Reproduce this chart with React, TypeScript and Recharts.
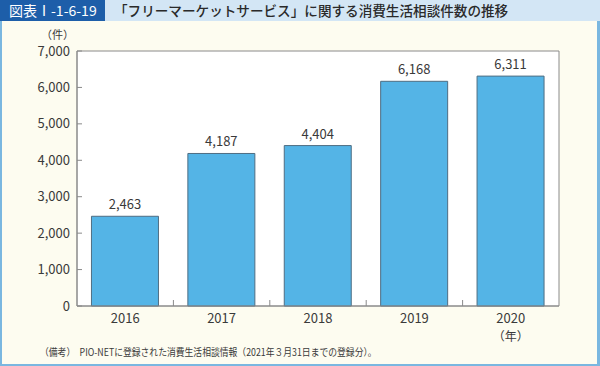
import React from 'react';
import { BarChart, Bar, XAxis, YAxis, CartesianGrid, LabelList, ReferenceArea } from 'recharts';

const years = ['2016', '2017', '2018', '2019', '2020'];
const counts = [2463, 4187, 4404, 6168, 6311];
const yTicks = [0, 1000, 2000, 3000, 4000, 5000, 6000, 7000];

const data = years.map((year, i) => ({ year, count: counts[i] }));

const FONT = '"Noto Sans CJK JP", "Noto Sans", sans-serif';
const fmt = (v: number) => v.toLocaleString('en-US');

const YearTick = (props: any) => {
    const { x, y, payload, index, visibleTicksCount } = props;
    const half = payload.offset || 0;
    return (
        <g>
            {index > 0 && (
                <line x1={x - half} x2={x - half} y1={y} y2={y - 6} stroke="#8a8a8a" />
            )}
            <text x={x} y={y + 17} textAnchor="middle" fontSize={13} fill="#3a3a3a" fontFamily={FONT}>
                {payload.value}
            </text>
            {index === visibleTicksCount - 1 && (
                <text x={x} y={y + 35} textAnchor="middle" fontSize={12} fill="#3a3a3a" fontFamily={FONT}>
                    （年）
                </text>
            )}
        </g>
    );
};

export default function App() {
    return (
        <div style={{ position: 'relative', width: 600, height: 366, fontFamily: FONT, background: '#fdfcf0', overflow: 'hidden' }}>
            <style>{'body{margin:0}'}</style>
            {/* title band */}
            <div style={{ position: 'absolute', left: 0, top: 0, width: 600, height: 21, background: '#d3e6f5' }} />
            <div style={{ position: 'absolute', left: 0, top: 0, width: 105, height: 21, background: '#1d5ea9', color: '#fff', fontSize: 14, lineHeight: '21px', paddingLeft: 9, boxSizing: 'border-box' }}>
                図表Ⅰ-1-6-19
            </div>
            <div style={{ position: 'absolute', left: 114, top: 0, height: 21, lineHeight: '21px', fontSize: 13.6, color: '#2a2a2a', fontWeight: 500 }}>
                「フリーマーケットサービス」に関する消費生活相談件数の推移
            </div>
            {/* panel border */}
            <div style={{ position: 'absolute', left: 0, top: 21, width: 600, height: 345, borderLeft: '2px solid #7ab7e0', borderRight: '3px solid #7ab7e0', borderBottom: '2px solid #7ab7e0', boxSizing: 'border-box' }} />
            <div style={{ position: 'absolute', left: 41, top: 28, fontSize: 11, lineHeight: '13px', color: '#3a3a3a' }}>（件）</div>
            <div style={{ position: 'absolute', left: 40, top: 344, fontSize: 10, color: '#3a3a3a', whiteSpace: 'nowrap', transform: 'scaleX(0.88)', transformOrigin: 'left center' }}>
                （備考）　PIO-NETに登録された消費生活相談情報（2021年３月31日までの登録分）。
            </div>
            <div style={{ position: 'absolute', left: 0, top: 0 }}>
                <BarChart width={600} height={366} data={data} margin={{ top: 51, right: 41, left: 0, bottom: 30 }} barCategoryGap="15%">
                    <CartesianGrid fill="#ffffff" horizontal={false} vertical={false} />
                    <ReferenceArea y1={0} y2={7000} fill="none" stroke="#8a8a8a" strokeWidth={1} ifOverflow="visible" />
                    <XAxis
                        dataKey="year"
                        height={30}
                        tickLine={false}
                        tickSize={0}
                        tickMargin={0}
                        axisLine={{ stroke: '#8a8a8a' }}
                        tick={<YearTick />}
                        interval={0}
                    />
                    <YAxis
                        width={77}
                        domain={[0, 7000]}
                        ticks={yTicks}
                        tickFormatter={fmt}
                        tickSize={-5}
                        tickMargin={12}
                        axisLine={{ stroke: '#8a8a8a' }}
                        tickLine={{ stroke: '#8a8a8a' }}
                        tick={{ fontSize: 13, fill: '#3a3a3a', fontFamily: FONT }}
                    />
                    <Bar dataKey="count" fill="#54b4e6" stroke="#4f6d82" strokeWidth={1} isAnimationActive={false}>
                        <LabelList dataKey="count" position="top" offset={7} formatter={(v: any) => fmt(Number(v))} style={{ fontSize: 13, fill: '#3a3a3a', fontFamily: FONT }} />
                    </Bar>
                </BarChart>
            </div>
        </div>
    );
}
